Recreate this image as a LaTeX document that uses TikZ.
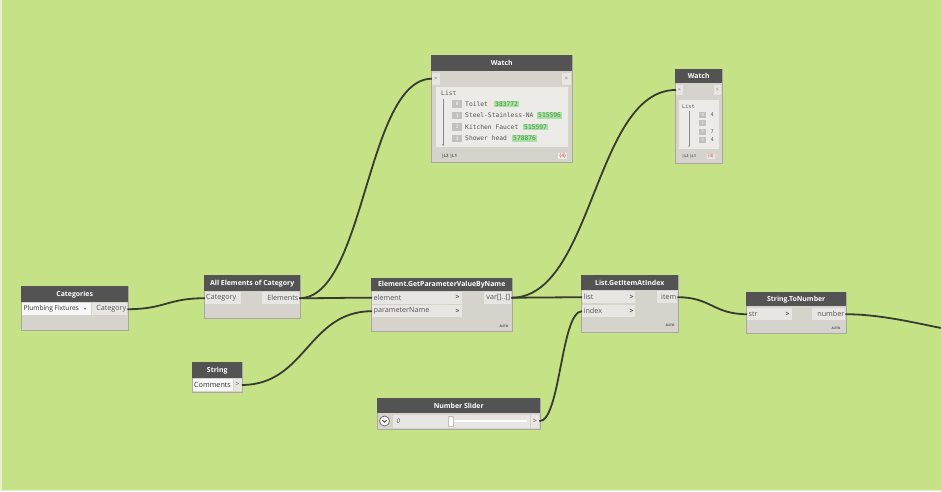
\documentclass[tikz,border=0pt]{standalone}
\usepackage{fontspec}
\usetikzlibrary{arrows.meta}
\setmainfont{Open Sans}
\setmonofont{DejaVu Sans Mono}
\newfontfamily\djv{DejaVu Sans}
\definecolor{bgc}{HTML}{C5E286}
\definecolor{bodyc}{HTML}{D6D3CD}
\definecolor{edgec}{HTML}{A9A79F}
\definecolor{titlec}{HTML}{535353}
\definecolor{portc}{HTML}{E7E6E3}
\definecolor{whitec}{HTML}{F7F7F7}
\definecolor{txtc}{HTML}{555555}
\definecolor{wirec}{HTML}{363C30}
\definecolor{contc}{HTML}{ECEBE8}
\definecolor{valc}{HTML}{A9E2A5}
\definecolor{valtxt}{HTML}{4C8F4C}
\definecolor{idxc}{HTML}{C2C1BE}
\definecolor{redc}{HTML}{D03030}
\definecolor{framec}{HTML}{E6F1CC}
\begin{document}
\begin{tikzpicture}[x=1pt,y=-1pt,
  body/.style={draw=edgec, line width=0.5pt, fill=bodyc, inner sep=0pt, anchor=north west},
  ttl/.style={fill=titlec, text=white, font=\fontsize{6.9}{8}\selectfont\bfseries, inner sep=0pt, anchor=north west},
  portbox/.style={fill=portc, inner sep=0pt, anchor=north west},
  lbl/.style={text=txtc, font=\fontsize{7.2}{8}\selectfont, inner sep=0pt},
  arr/.style={text=txtc, font=\fontsize{7}{8}\selectfont\bfseries, inner sep=0pt},
  autolbl/.style={text=txtc, font=\fontsize{3.2}{4}\selectfont\bfseries, inner sep=0pt},
  wire/.style={draw=wirec, line width=1.8pt},
  mono/.style={text=txtc, font=\ttfamily\fontsize{6.3}{7}\selectfont, inner sep=0pt, anchor=west},
  smono/.style={text=txtc, font=\ttfamily\fontsize{5.2}{6}\selectfont, inner sep=0pt, anchor=west},
  val/.style={fill=valc, text=valtxt, font=\ttfamily\fontsize{6.3}{7}\selectfont, inner xsep=1.5pt, inner ysep=1pt, anchor=west},
  idx/.style={fill=idxc, text=white, font=\ttfamily\fontsize{4.5}{5}\selectfont, inner sep=0pt, minimum width=10, minimum height=7.5, anchor=west},
  sidx/.style={fill=idxc, text=white, font=\ttfamily\fontsize{3.5}{4}\selectfont, inner sep=0pt, minimum width=7, minimum height=6, anchor=west},
  foot/.style={text=txtc, font=\fontsize{4.4}{5}\selectfont\bfseries, inner sep=0pt, anchor=west},
  redbox/.style={fill=contc, text=redc, font=\fontsize{5}{6}\selectfont, inner xsep=1.2pt, inner ysep=0.8pt, anchor=west}
]
\useasboundingbox (0,0) rectangle (941,491);
\fill[bgc] (0,0) rectangle (941,491);
\draw[framec, line width=1.5pt] (0.75,0) -- (0.75,490.25) -- (941,490.25);

% ---------- Categories
\node[body, minimum width=107, minimum height=44] (cat) at (21,286) {};
\node[ttl, minimum width=107, minimum height=16] (catT) at (21,286) {Categories};
\node[portbox, fill=whitec, minimum width=69, minimum height=12] (catDd) at (22,303) {};
\node[lbl, anchor=west, text=black!80, font=\fontsize{6.6}{8}\selectfont] (catDdT) at (23.5,309) {Plumbing Fixtures};
\node[lbl, anchor=west, font=\djv\fontsize{4}{5}\selectfont] (catArr) at (84,309.5) {▾};
\node[portbox, minimum width=35, minimum height=12] (catOut) at (92,303) {};
\node[lbl, anchor=east] (catOutT) at (126.5,309) {Category};

% ---------- All Elements of Category
\node[body, minimum width=96, minimum height=43] (ae) at (204,275) {};
\node[ttl, minimum width=96, minimum height=16] (aeT) at (204,275) {All Elements of Category};
\node[portbox, minimum width=36, minimum height=12] (aeIn) at (205,292) {};
\node[lbl, anchor=west] (aeInT) at (206,298) {Category};
\node[portbox, minimum width=37, minimum height=12] (aeOut) at (262,292) {};
\node[lbl, anchor=east] (aeOutT) at (298.5,298) {Elements};

% ---------- Element.GetParameterValueByName
\node[body, minimum width=141, minimum height=53] (gp) at (371,278) {};
\node[ttl, minimum width=141, minimum height=13] (gpT) at (371,278) {Element.GetParameterValueByName};
\node[portbox, minimum width=90, minimum height=12] (gpIn1) at (372,291.5) {};
\node[lbl, anchor=west] (gpIn1T) at (373.5,297.5) {element};
\node[arr] (gpIn1A) at (457.5,297.5) {>};
\node[portbox, minimum width=90, minimum height=12] (gpIn2) at (372,305) {};
\node[lbl, anchor=west] (gpIn2T) at (373.5,311) {parameterName};
\node[arr] (gpIn2A) at (457.5,311) {>};
\node[portbox, minimum width=27, minimum height=12] (gpOut) at (484,291.5) {};
\node[lbl, anchor=east] (gpOutT) at (510.5,297.5) {var[]..[]};
\node[autolbl] (gpAuto) at (504,326) {AUTO};

% ---------- List.GetItemAtIndex
\node[body, minimum width=97, minimum height=57] (gi) at (581,275) {};
\node[ttl, minimum width=97, minimum height=15] (giT) at (581,275) {List.GetItemAtIndex};
\node[portbox, minimum width=53, minimum height=12] (giIn1) at (582,291) {};
\node[lbl, anchor=west] (giIn1T) at (583.5,297) {list};
\node[arr] (giIn1A) at (631.5,297) {>};
\node[portbox, minimum width=53, minimum height=12] (giIn2) at (582,305) {};
\node[lbl, anchor=west] (giIn2T) at (583.5,311) {index};
\node[arr] (giIn2A) at (631.5,311) {>};
\node[portbox, minimum width=20, minimum height=12] (giOut) at (657,291) {};
\node[lbl, anchor=east] (giOutT) at (676.5,297) {item};
\node[autolbl] (giAuto) at (670,325) {AUTO};

% ---------- String.ToNumber
\node[body, minimum width=100, minimum height=41] (tn) at (746,292) {};
\node[ttl, minimum width=100, minimum height=14] (tnT) at (746,292) {String.ToNumber};
\node[portbox, minimum width=45, minimum height=12] (tnIn) at (747,308) {};
\node[lbl, anchor=west] (tnInT) at (748.5,314) {str};
\node[arr] (tnInA) at (787.5,314) {>};
\node[portbox, minimum width=33, minimum height=12] (tnOut) at (812,308) {};
\node[lbl, anchor=east] (tnOutT) at (844.5,314) {number};
\node[autolbl] (tnAuto) at (836,328) {AUTO};
\coordinate (tnEnd) at (941,328);

% ---------- String
\node[body, minimum width=50, minimum height=30] (st) at (192,362) {};
\node[ttl, minimum width=50, minimum height=16] (stT) at (192,362) {String};
\node[portbox, fill=whitec, minimum width=40, minimum height=11.5] (stVal) at (193,379) {};
\node[lbl, anchor=west, text=black!80] (stValT) at (194,384.8) {Comments};
\node[portbox, minimum width=8, minimum height=11.5] (stOut) at (233.5,379) {};
\node[lbl] (stOutA) at (237.5,384.8) {>};

% ---------- Number Slider
\node[body, minimum width=163, minimum height=31] (ns) at (377,398) {};
\node[ttl, minimum width=163, minimum height=15] (nsT) at (377,398) {Number Slider};
\node[portbox, minimum width=137, minimum height=13] (nsRow) at (393,414.5) {};
\node[circle, draw=txtc, line width=0.6pt, fill=whitec, minimum size=10, inner sep=0pt] (nsBtn) at (384.5,421) {};
\draw[txtc, line width=0.8pt] ([shift={(-2.2,-1)}]nsBtn.center) -- ([shift={(0,1.2)}]nsBtn.center) -- ([shift={(2.2,-1)}]nsBtn.center);
\node[lbl, anchor=west, font=\fontsize{6.4}{7}\selectfont\itshape] (nsVal) at (396.5,421) {0};
\draw[white, line width=1.6pt] (451,421) -- (527,421);
\node[draw=idxc, fill=white, line width=0.4pt, minimum width=5, minimum height=10, inner sep=0pt] (nsHandle) at (451,421) {};
\node[portbox, minimum width=8, minimum height=13] (nsOut) at (531,414.5) {};
\node[lbl] (nsOutA) at (535,421) {>};

% ---------- Watch (large)
\node[body, minimum width=141, minimum height=107] (w1) at (431,55) {};
\node[ttl, minimum width=141, minimum height=16] (w1T) at (431,55) {Watch};
\node[portbox, minimum width=8, minimum height=12] (w1In) at (432,72.5) {};
\node[lbl, font=\fontsize{5.4}{6}\selectfont] (w1InA) at (436,78.5) {>};
\node[portbox, minimum width=9, minimum height=12] (w1Out) at (562,72.5) {};
\node[lbl, font=\fontsize{5.4}{6}\selectfont] (w1OutA) at (566.5,78.5) {>};
\node[fill=contc, inner sep=0pt, minimum width=132, minimum height=60, anchor=north west] (w1C) at (435.5,87) {};
\node[mono] (w1List) at (441,93.5) {List};
\draw[idxc!70!black, line width=0.5pt, -{Stealth[length=2pt,width=2pt]}] (443,99) -- (443,146);
\node[idx] (w1i0) at (452,104) {0};
\node[mono] (w1t0) at (465,104) {Toilet};
\node[val] (w1v0) at (493.5,104) {383772};
\node[idx] (w1i1) at (452,115.5) {1};
\node[mono] (w1t1) at (465,115.5) {Steel-Stainless-NA};
\node[val] (w1v1) at (536.5,115.5) {515596};
\node[idx] (w1i2) at (452,127) {2};
\node[mono] (w1t2) at (465,127) {Kitchen Faucet};
\node[val] (w1v2) at (522.5,127) {515597};
\node[idx] (w1i3) at (452,138.5) {3};
\node[mono] (w1t3) at (465,138.5) {Shower head};
\node[val] (w1v3) at (511.5,138.5) {578876};
\node[foot] (w1L) at (441,156) {|L2 |L1};
\node[redbox] (w1N) at (558,156) {\{4\}};

% ---------- Watch (small)
\node[body, minimum width=47, minimum height=94] (w2) at (675,69) {};
\node[ttl, minimum width=47, minimum height=14] (w2T) at (675,69) {Watch};
\node[portbox, minimum width=7, minimum height=10.5] (w2In) at (676,84.5) {};
\node[lbl, font=\fontsize{4.8}{5}\selectfont] (w2InA) at (679.5,89.8) {>};
\node[portbox, minimum width=7, minimum height=10.5] (w2Out) at (714,84.5) {};
\node[lbl, font=\fontsize{4.8}{5}\selectfont] (w2OutA) at (717.5,89.8) {>};
\node[fill=contc, inner sep=0pt, minimum width=40, minimum height=49, anchor=north west] (w2C) at (678.5,99.5) {};
\node[smono] (w2List) at (682,107) {List};
\draw[idxc!70!black, line width=0.4pt, -{Stealth[length=1.6pt,width=1.6pt]}] (689,111) -- (689,147);
\node[sidx] (w2i0) at (699,115) {0};
\node[smono] (w2v0) at (710.5,115) {4};
\node[sidx] (w2i1) at (699,123.3) {1};
\node[sidx] (w2i2) at (699,131.6) {2};
\node[smono] (w2v2) at (710.5,131.6) {7};
\node[sidx] (w2i3) at (699,140) {3};
\node[smono] (w2v3) at (710.5,140) {4};
\node[foot, font=\fontsize{3.8}{4}\selectfont\bfseries] (w2L) at (682,156.5) {|L2 |L1};
\node[redbox, font=\fontsize{4.4}{5}\selectfont] (w2N) at (706.5,156.5) {\{4\}};

% ---------- Wires
\draw[wire] (catOut.east) .. controls +(38,0) and +(-38,0) .. (aeIn.west);
\draw[wire] (aeOut.east) .. controls +(35,0) and +(-35,0) .. (gpIn1.west);
\draw[wire] (aeOut.east) .. controls +(66,0) and +(-66,0) .. (w1In.west);
\draw[wire] (stOut.east) .. controls +(64,0) and +(-64,0) .. (gpIn2.west);
\draw[wire] (gpOut.east) .. controls +(35,0) and +(-35,0) .. (giIn1.west);
\draw[wire] (gpOut.east) .. controls +(82,0) and +(-82,0) .. (w2In.west);
\draw[wire] (nsOut.east) .. controls +(21,0) and +(-21,0) .. (giIn2.west);
\draw[wire] (giOut.east) .. controls +(34,0) and +(-34,0) .. (tnIn.west);
\draw[wire] (tnOut.east) .. controls +(34,0) and +(-25,-5) .. (tnEnd);
\end{tikzpicture}
\end{document}
